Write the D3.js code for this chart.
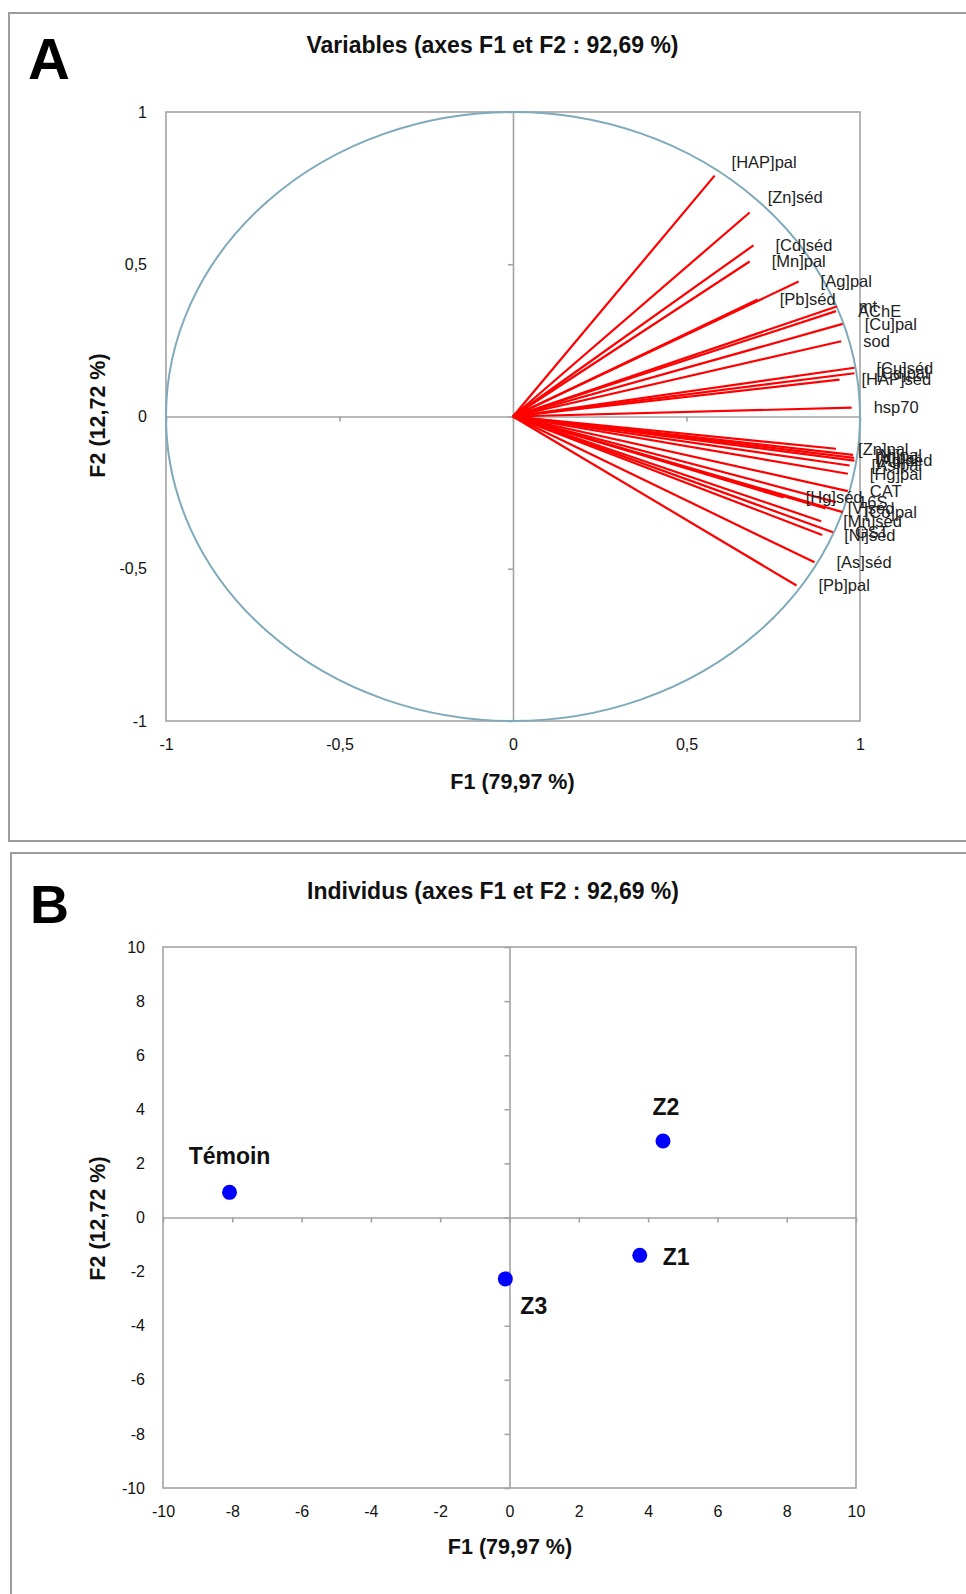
<!DOCTYPE html>
<html><head><meta charset="utf-8">
<script src="https://cdn.jsdelivr.net/npm/d3@7"></script>
<style>
body{margin:0;background:#fff}
svg{display:block}
text{font-family:"Liberation Sans",Arial,sans-serif}
</style>
</head><body>
<svg id="c" width="966" height="1594"></svg>
<script>
// ---------- DATA ----------
const varNames = ["[HAP]pal","[Zn]séd","[Cd]séd","[Mn]pal","[Ag]pal","[Pb]séd","mt","AChE","[Cu]pal","sod",
  "[Cu]séd","[Cd]pal","[HAP]séd","hsp70","[Zn]pal","[Ni]pal","[V]pal","[Ag]séd","[As]pal","[Hg]pal",
  "CAT","[Hg]séd","16S","[V]séd","[Co]pal","[Mn]séd","GST","[Ni]séd","[As]séd","[Pb]pal"];
const varF1 = [0.581,0.682,0.693,0.682,0.823,0.705,0.933,0.931,0.950,0.946,
  0.984,0.984,0.941,0.976,0.931,0.980,0.983,0.984,0.970,0.965,
  0.965,0.780,0.931,0.901,0.950,0.888,0.922,0.891,0.869,0.817];
const varF2 = [0.791,0.670,0.562,0.509,0.443,0.384,0.361,0.346,0.304,0.247,
  0.160,0.142,0.121,0.029,-0.106,-0.126,-0.136,-0.145,-0.161,-0.188,
  -0.245,-0.266,-0.281,-0.302,-0.314,-0.344,-0.380,-0.389,-0.479,-0.555];

const obsNames = ["Témoin","Z1","Z2","Z3"];
const obsF1 = [-8.08, 3.76, 4.43, -0.12];
const obsF2 = [0.93, -1.40, 2.83, -2.27];

const ticksA = [-1,-0.5,0,0.5,1];
const ticksB = [-10,-8,-6,-4,-2,0,2,4,6,8,10];

const titleA = "Variables (axes F1 et F2 : 92,69 %)";
const titleB = "Individus (axes F1 et F2 : 92,69 %)";
const xTitle = "F1 (79,97 %)";
const yTitle = "F2 (12,72 %)";

// ---------- LAYOUT (label nudges in px) ----------
const varNudge = {"[HAP]pal":[17,-13],"[Zn]séd":[18,-15]};
const obsNudge = {"Témoin":[0,-36,"middle"],"Z2":[3,-34,"middle"],"Z1":[23,2,"start"],"Z3":[15,27,"start"]};

const fmt = d => String(d).replace(".", ",");
const gray = "#a3a3a3";
const svg = d3.select("#c");

// ---------- PANEL FRAMES ----------
svg.append("rect").attr("x",9).attr("y",13).attr("width",1000).attr("height",828)
  .attr("fill","#fff").attr("stroke","#9c9c9c").attr("stroke-width",2);
svg.append("rect").attr("x",11).attr("y",853).attr("width",1000).attr("height",800)
  .attr("fill","#fff").attr("stroke","#9c9c9c").attr("stroke-width",2);

// ---------- PANEL A ----------
const xA = d3.scaleLinear().domain([-1,1]).range([166,860]);
const yA = d3.scaleLinear().domain([-1,1]).range([721,112]);
const gA = svg.append("g");

gA.append("rect").attr("x",xA(-1)).attr("y",yA(1)).attr("width",xA(1)-xA(-1)).attr("height",yA(-1)-yA(1))
  .attr("fill","none").attr("stroke",gray).attr("stroke-width",1.6);

// zero lines with ticks
const zx = gA.append("g").attr("transform",`translate(0,${yA(0)})`)
  .call(d3.axisBottom(xA).tickValues(ticksA).tickSize(5).tickSizeOuter(0).tickFormat(""));
const zy = gA.append("g").attr("transform",`translate(${xA(0)},0)`)
  .call(d3.axisLeft(yA).tickValues(ticksA).tickSize(5).tickSizeOuter(0).tickFormat(""));
[zx,zy].forEach(g=>{g.selectAll("path,line").attr("stroke",gray).attr("stroke-width",1.6);});

// correlation circle
gA.append("ellipse").attr("cx",xA(0)).attr("cy",yA(0))
  .attr("rx",xA(1)-xA(0)).attr("ry",yA(0)-yA(1))
  .attr("fill","none").attr("stroke","#7eaab9").attr("stroke-width",2);

// vectors
const vars = varNames.map((n,i)=>({n, x:varF1[i], y:varF2[i]}));
gA.append("g").selectAll("line").data(vars).join("line")
  .attr("x1",xA(0)).attr("y1",yA(0))
  .attr("x2",d=>xA(d.x)).attr("y2",d=>yA(d.y))
  .attr("stroke","#ff0000").attr("stroke-width",2.2);

gA.append("g").selectAll("text").data(vars).join("text")
  .attr("x",d=>xA(d.x)+(varNudge[d.n]?varNudge[d.n][0]:22))
  .attr("y",d=>yA(d.y)+(varNudge[d.n]?varNudge[d.n][1]:0))
  .attr("dy","0.35em").attr("font-size",16.5).attr("fill","#222")
  .text(d=>d.n);

// tick labels
const axAB = gA.append("g").attr("transform",`translate(0,${yA(-1)})`)
  .call(d3.axisBottom(xA).tickValues(ticksA).tickSize(0).tickPadding(18).tickFormat(fmt));
const axAL = gA.append("g").attr("transform",`translate(${xA(-1)},0)`)
  .call(d3.axisLeft(yA).tickValues(ticksA).tickSize(0).tickPadding(19).tickFormat(fmt));
[axAB,axAL].forEach(g=>{g.select(".domain").remove();
  g.selectAll("text").attr("font-family","Liberation Sans, Arial, sans-serif").attr("font-size",16).attr("fill","#111");});

// titles
svg.append("text").attr("x",28).attr("y",79).attr("font-size",58).attr("font-weight","bold").text("A");
svg.append("text").attr("x",492.5).attr("y",53).attr("text-anchor","middle").attr("font-size",23)
  .attr("font-weight","bold").attr("fill","#111").text(titleA);
svg.append("text").attr("x",512.5).attr("y",788.5).attr("text-anchor","middle").attr("font-size",21.5)
  .attr("font-weight","bold").attr("fill","#111").text(xTitle);
svg.append("text").attr("transform",`translate(105,415.5) rotate(-90)`).attr("text-anchor","middle")
  .attr("font-size",21.5).attr("font-weight","bold").attr("fill","#111").text(yTitle);

// ---------- PANEL B ----------
const xB = d3.scaleLinear().domain([-10,10]).range([163,856]);
const yB = d3.scaleLinear().domain([-10,10]).range([1488,947]);
const gB = svg.append("g");

gB.append("rect").attr("x",xB(-10)).attr("y",yB(10)).attr("width",xB(10)-xB(-10)).attr("height",yB(-10)-yB(10))
  .attr("fill","none").attr("stroke",gray).attr("stroke-width",1.6);

const zxB = gB.append("g").attr("transform",`translate(0,${yB(0)})`)
  .call(d3.axisBottom(xB).tickValues(ticksB).tickSize(5).tickSizeOuter(0).tickFormat(""));
const zyB = gB.append("g").attr("transform",`translate(${xB(0)},0)`)
  .call(d3.axisLeft(yB).tickValues(ticksB).tickSize(5).tickSizeOuter(0).tickFormat(""));
[zxB,zyB].forEach(g=>{g.selectAll("path,line").attr("stroke",gray).attr("stroke-width",1.6);});

const axBB = gB.append("g").attr("transform",`translate(0,${yB(-10)})`)
  .call(d3.axisBottom(xB).tickValues(ticksB).tickSize(0).tickPadding(18).tickFormat(fmt));
const axBL = gB.append("g").attr("transform",`translate(${xB(-10)},0)`)
  .call(d3.axisLeft(yB).tickValues(ticksB).tickSize(0).tickPadding(18).tickFormat(fmt));
[axBB,axBL].forEach(g=>{g.select(".domain").remove();
  g.selectAll("text").attr("font-family","Liberation Sans, Arial, sans-serif").attr("font-size",16).attr("fill","#111");});

const obs = obsNames.map((n,i)=>({n, x:obsF1[i], y:obsF2[i]}));
gB.append("g").selectAll("circle").data(obs).join("circle")
  .attr("cx",d=>xB(d.x)).attr("cy",d=>yB(d.y)).attr("r",7.5).attr("fill","#0000ff");
gB.append("g").selectAll("text").data(obs).join("text")
  .attr("x",d=>xB(d.x)+obsNudge[d.n][0]).attr("y",d=>yB(d.y)+obsNudge[d.n][1])
  .attr("dy","0.35em").attr("text-anchor",d=>obsNudge[d.n][2])
  .attr("font-size",23).attr("font-weight","bold").attr("fill","#111").text(d=>d.n);

svg.append("text").attr("x",30).attr("y",923).attr("font-size",54).attr("font-weight","bold").text("B");
svg.append("text").attr("x",493).attr("y",899).attr("text-anchor","middle").attr("font-size",23)
  .attr("font-weight","bold").attr("fill","#111").text(titleB);
svg.append("text").attr("x",510).attr("y",1554).attr("text-anchor","middle").attr("font-size",21.5)
  .attr("font-weight","bold").attr("fill","#111").text(xTitle);
svg.append("text").attr("transform",`translate(105,1218.5) rotate(-90)`).attr("text-anchor","middle")
  .attr("font-size",21.5).attr("font-weight","bold").attr("fill","#111").text(yTitle);
</script>
</body></html>
